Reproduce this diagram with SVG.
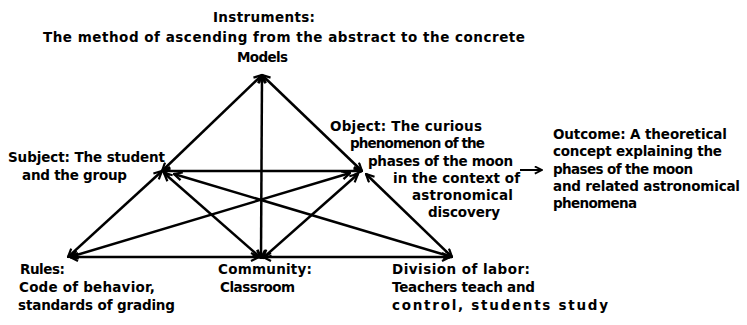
<svg xmlns="http://www.w3.org/2000/svg" width="747" height="325" viewBox="0 0 747 325">
<style>
text{font-family:"DejaVu Sans",Verdana,sans-serif;font-weight:bold;font-size:13.5px;fill:#000}
.c line{stroke:#000;stroke-width:2.5;fill:none;marker-start:url(#ah);marker-end:url(#ah)}
</style>
<defs>
<marker id="ah" viewBox="0 0 10 10" refX="9" refY="5" markerWidth="10" markerHeight="10" markerUnits="userSpaceOnUse" orient="auto-start-reverse"><path d="M1,1 L9,5 L1,9" fill="none" stroke="#000" stroke-width="2.2"/></marker>
<marker id="ah1" viewBox="0 0 10 10" refX="9" refY="5" markerWidth="9" markerHeight="9" markerUnits="userSpaceOnUse" orient="auto"><path d="M1,1 L9,5 L1,9" fill="none" stroke="#000" stroke-width="2"/></marker>
</defs>
<g id="connectors" class="c">
<line x1="262" y1="75" x2="162" y2="171"/>
<line x1="262" y1="75" x2="362" y2="171"/>
<line x1="262" y1="75" x2="261" y2="258"/>
<line x1="162" y1="171" x2="362" y2="171"/>
<line x1="162" y1="171" x2="68" y2="257"/>
<line x1="164" y1="173" x2="261" y2="258"/>
<line x1="174" y1="174" x2="452" y2="257"/>
<line x1="350" y1="173" x2="70" y2="257"/>
<line x1="358" y1="174" x2="263" y2="258"/>
<line x1="366" y1="174" x2="452" y2="257"/>
<line x1="70" y1="257" x2="259" y2="257"/>
<line x1="263" y1="257" x2="450" y2="257"/>
<line x1="520" y1="170" x2="542" y2="170" style="marker-start:none;stroke-width:2;marker-end:url(#ah1)"/>
</g>
<g id="instruments">
<text x="213" y="22" textLength="102" lengthAdjust="spacing">Instruments:</text>
<text x="43" y="42" textLength="482" lengthAdjust="spacing">The method of ascending from the abstract to the concrete</text>
<text x="237" y="62" textLength="51" lengthAdjust="spacing">Models</text>
</g>
<g id="subject">
<text x="8" y="162" textLength="157" lengthAdjust="spacing">Subject: The student</text>
<text x="22" y="180" textLength="105" lengthAdjust="spacing">and the group</text>
</g>
<g id="object">
<text x="330" y="131" textLength="152" lengthAdjust="spacing">Object: The curious</text>
<text x="350" y="148" textLength="135" lengthAdjust="spacing">phenomenon of the</text>
<text x="368" y="166" textLength="145" lengthAdjust="spacing">phases of the moon</text>
<text x="393" y="183" textLength="127" lengthAdjust="spacing">in the context of</text>
<text x="412" y="200" textLength="101" lengthAdjust="spacing">astronomical</text>
<text x="428" y="217" textLength="72" lengthAdjust="spacing">discovery</text>
</g>
<g id="outcome">
<text x="553" y="139" textLength="174" lengthAdjust="spacing">Outcome: A theoretical</text>
<text x="553" y="156" textLength="169" lengthAdjust="spacing">concept explaining the</text>
<text x="553" y="174" textLength="140" lengthAdjust="spacing">phases of the moon</text>
<text x="553" y="191" textLength="187" lengthAdjust="spacing">and related astronomical</text>
<text x="553" y="208" textLength="84" lengthAdjust="spacing">phenomena</text>
</g>
<g id="rules">
<text x="20" y="274" textLength="45" lengthAdjust="spacing">Rules:</text>
<text x="19" y="292" textLength="136" lengthAdjust="spacing">Code of behavior,</text>
<text x="18" y="310" textLength="157" lengthAdjust="spacing">standards of grading</text>
</g>
<g id="community">
<text x="218" y="274" textLength="94" lengthAdjust="spacing">Community:</text>
<text x="220" y="292" textLength="75" lengthAdjust="spacing">Classroom</text>
</g>
<g id="division">
<text x="392" y="274" textLength="138" lengthAdjust="spacing">Division of labor:</text>
<text x="392" y="292" textLength="143" lengthAdjust="spacing">Teachers teach and</text>
<text x="392" y="310" textLength="216" lengthAdjust="spacing">control, students study</text>
</g>
</svg>
